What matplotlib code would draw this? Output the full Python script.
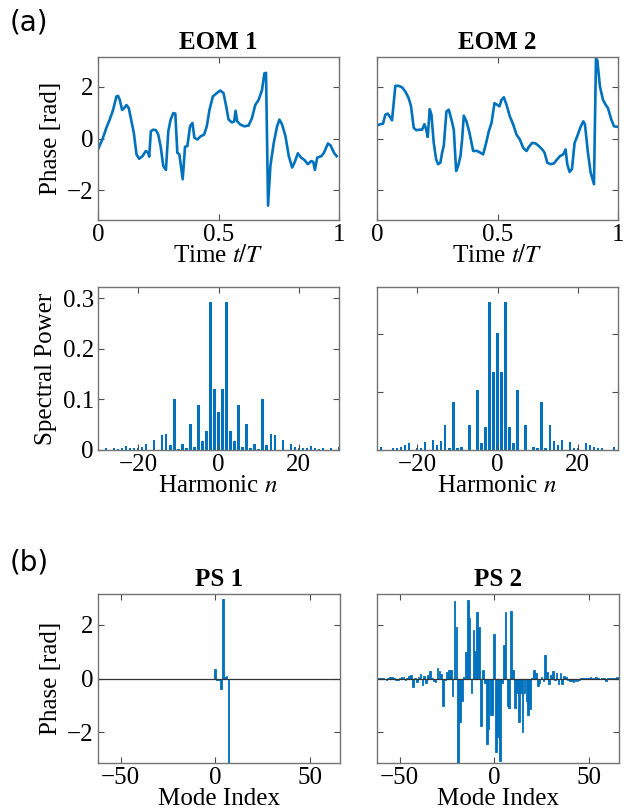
import numpy as np
import matplotlib
matplotlib.use("Agg")
import matplotlib.pyplot as plt

plt.rcParams["font.family"] = ["Liberation Serif", "DejaVu Serif"]
plt.rcParams["mathtext.fontset"] = "stix"

BLUE = "#0072BD"
W, H = 631, 810

# ---- EOM phase traces ----
t1 = [0, .0208, .0347, .0486, .0625, .0764, .0833, .0903, .1, .1083, .1181, .1278, .1389, .1486,
      .1597, .1708, .1847, .1986, .2083, .2125, .2194, .2292, .2403, .25, .2597, .2708, .2819,
      .2917, .3014, .3125, .3208, .3292, .3375, .3514, .3611, .3708, .3819, .3917, .4, .4125,
      .4264, .4403, .4514, .4625, .4764, .4931, .5069, .5208, .5319, .5417, .5556, .5653, .5708,
      .5778, .5903, .6069, .625, .6389, .6528, .6667, .6806, .6903, .6972, .7056, .7153, .7292,
      .7431, .7528, .7639, .7778, .7917, .8056, .8167, .8292, .8431, .8569, .8708, .8847, .8931,
      .9, .9097, .9264, .9375, .9542, .9653, .9792, .9903]
phi1 = [-0.42, 0.03, 0.41, 0.73, 1.1, 1.62, 1.64, 1.49, 1.1, 1.17, 1.29, 1.17, 0.66, 0.22,
        -0.61, -0.78, -0.68, -0.48, -0.55, -0.7, 0.28, 0.34, 0.32, 0.15, -0.29, -1.06, -1.21,
        0.28, 0.73, 0.98, 0.96, -0.55, -0.61, -1.57, -0.32, -0.29, 0.47, 0.6, 0.03, -0.04,
        0.09, 0.15, 0.47, 1.1, 1.62, 1.75, 1.85, 1.75, 1.24, 0.73, 0.62, 0.66, 1.07,
        0.66, 0.54, 0.47, 0.5, 0.79, 1.3, 1.49, 1.87, 2.51, 2.53, -2.59, -1.06, -0.17,
        0.47, 0.73, 0.54, 0.09, -0.68, -1.12, -0.9, -0.57, -0.74, -0.83, -0.99, -0.87, -0.9,
        -1.21, -0.74, -0.68, -0.55, -0.19, -0.27, -0.55, -0.68]

t2 = [0, .0139, .0249, .0346, .0443, .0526, .0623, .0762, .09, .1039, .1177, .1316, .1413, .1524,
      .1634, .1773, .187, .1967, .2036, .2105, .2188, .2258, .2355, .2452, .2535, .2632, .2701,
      .277, .2881, .2978, .3089, .3186, .3283, .3366, .3463, .3532, .3601, .3712, .3837, .3989,
      .4155, .4294, .4404, .4529, .464, .4751, .4875, .4986, .5083, .5166, .5263, .5374, .5512,
      .5651, .5789, .5928, .6066, .6205, .6302, .644, .6579, .6717, .6856, .6953, .7064, .7202,
      .7341, .7452, .759, .7729, .7825, .7895, .7992, .8089, .8199, .831, .8449, .856, .8629,
      .8753, .8864, .9003, .9086, .9141, .9252, .9377, .9488, .9584, .9723, .9834, .9972]
phi2 = [0.5, 0.55, 0.57, 0.92, 0.96, 0.85, 0.7, 2.03, 2.03, 1.97, 1.81, 1.55, 1.24, 0.41,
        0.32, 0.34, 0.34, 0.55, 0.37, 0.06, 1.13, 0.92, -0.17, -0.8, -0.99, -0.93, -0.55,
        -0.29, 1.04, 1.11, 0.73, 0.34, -1.25, -1.06, -0.68, -0.04, 0.88, 0.66, 0.22, -0.48,
        -0.48, -0.55, -0.61, -0.17, 0.28, 0.6, 1.36, 1.3, 1.24, 1.49, 1.59, 1.3, 0.85,
        0.54, 0.15, -0.04, -0.36, -0.48, -0.32, -0.17, -0.19, -0.29, -0.42, -0.55, -0.93, -0.99,
        -0.96, -0.83, -0.68, -0.61, -0.42, -0.99, -1.29, -1.18, -0.17, 0.09, 0.45, 0.66, 0.54,
        -0.55, -1.31, -1.76, 3.08, 3.02, 2.0, 1.49, 1.3, 1.17, 0.73, 0.47, 0.45]

# ---- spectral power, harmonics -30..30 ----
harm = list(range(-30, 31))
spec1 = [0.005, 0.0, 0.003, 0.0, 0.003, 0.002, 0.003, 0.007, 0.003, 0.003, 0.004, 0.005,
         0.012, 0.0, 0.02, 0.0, 0.029, 0.031, 0.009, 0.1, 0.002, 0.011, 0.004, 0.051, 0.006,
         0.089, 0.017, 0.038, 0.293, 0.121, 0.075,
         0.121, 0.293, 0.038, 0.017, 0.089, 0.006, 0.051, 0.004, 0.011, 0.002, 0.1, 0.009,
         0.031, 0.029, 0.0, 0.02, 0.0, 0.012, 0.005, 0.004, 0.003, 0.003, 0.007, 0.003,
         0.002, 0.003, 0.0, 0.003, 0.0, 0.005]
spec2 = [0.0, 0.005, 0.0, 0.0, 0.003, 0.003, 0.005, 0.009, 0.012, 0.0, 0.003, 0.003,
         0.013, 0.0, 0.017, 0.009, 0.016, 0.043, 0.004, 0.082, 0.004, 0.005, 0.0, 0.043, 0.0,
         0.104, 0.012, 0.039, 0.255, 0.135, 0.202,
         0.135, 0.255, 0.039, 0.012, 0.104, 0.0, 0.043, 0.0, 0.005, 0.004, 0.082, 0.004,
         0.043, 0.016, 0.009, 0.017, 0.0, 0.013, 0.003, 0.003, 0.0, 0.012, 0.009, 0.005,
         0.003, 0.003, 0.0, 0.0, 0.005, 0.0]

# ---- phase-shaper masks ----
modes1 = [0, 1, 2, 3, 4, 5, 6, 7]
ps1 = [0.34, -0.04, -0.06, -0.39, 2.97, 0.05, 0.1, -3.14]

modes2 = list(range(-61, 67))
ps2 = [0.02, 0.01, 0.02, -0.02, -0.05, 0.02, 0.04, 0.05, 0.01, -0.04, -0.05, 0.03, 0.06,
       0.04, -0.05, 0.02, 0.1, 0.13, -0.33, 0.03, -0.12, 0.04, 0.18, -0.25, 0.08, -0.15,
       0.12, 0.28, 0.03, -0.1, -0.12, 0.38, 0.28, 0.18, -1.03, -0.05, 0.23, 0.3, 0.32,
       -0.64, 2.87, 1.91, -3.14, -1.6, -0.85, 0.07, 0.99, 2.92, 2.25, -0.54, 1.79, 1.02,
       2.46, 1.9, -1.76, 0.32, -0.15, -2.44, -1.89, -1.34, -1.35,
       1.67, -2.75, -2.19, -3.05, -0.17, 1.24, 2.46, -1.03, -1.1, 2.52, 0.32, -1.09, -0.54,
       -1.62, -0.54, -1.99, -0.54, -0.85, -1.34, -1.15, 0.02, 0.32, 0.2, -0.27, -0.15, 0.05,
       -0.1, 0.87, 0.23, -0.2, 0.13, 0.29, -0.07, 0.22, -0.2, 0.2, -0.2, 0.1, 0.07, -0.05,
       -0.08, -0.1, -0.12, -0.08, -0.1, -0.05, 0.02, 0.03, 0.01, 0.03, 0.02, 0.04, 0.01,
       0.03, 0.05, 0.02, -0.02, 0.01, 0.02, -0.1, 0.01, 0.02, 0.03, 0.02, 0.01, 0.04, 0.03]

FS = 18


def rect(l, r, t, b):
    return [l / W, 1 - b / H, (r - l) / W, (b - t) / H]


def style(ax, ylab=True):
    ax.tick_params(direction="in", top=True, right=True, length=4, width=0.8,
                   color="0.3", labelsize=FS, pad=3)
    for s in ax.spines.values():
        s.set_color("0.45")
        s.set_linewidth(1.0)
    if not ylab:
        ax.set_yticklabels([])


fig = plt.figure(figsize=(W / 100, H / 100), dpi=100)

# EOM phase
for i, (tt, pp) in enumerate([(t1, phi1), (t2, phi2)]):
    l = 98 if i == 0 else 377
    ax = fig.add_axes(rect(l, l + 241, 57, 220))
    ax.plot(tt, pp, color=BLUE, lw=1.9)
    ax.set_xlim(0, 1)
    ax.set_ylim(-np.pi, np.pi)
    ax.set_xticks([0, 0.5, 1])
    ax.set_xticklabels(["0", "0.5", "1"])
    ax.set_yticks([-2, 0, 2])
    style(ax, i == 0)
    ax.set_title(f"EOM {i + 1}", fontsize=FS, fontweight="bold", pad=6)
    ax.set_xlabel("Time $t/T$", fontsize=FS, labelpad=-1)
    if i == 0:
        ax.set_ylabel("Phase [rad]", fontsize=FS, labelpad=4)

# spectra
for i, sp in enumerate([spec1, spec2]):
    l = 98 if i == 0 else 377
    ax = fig.add_axes(rect(l, l + 241, 287, 450))
    ax.bar(harm, sp, width=0.6, color=BLUE, linewidth=0)
    ax.set_xlim(-30, 30)
    ax.set_ylim(0, 1.1 * max(sp))
    ax.set_xticks([-20, 0, 20])
    ax.set_yticks([0, 0.1, 0.2, 0.3] if i == 0 else [0, 0.1, 0.2])
    if i == 0:
        ax.set_yticklabels(["0", "0.1", "0.2", "0.3"])
    style(ax, i == 0)
    ax.set_xlabel("Harmonic $n$", fontsize=FS, labelpad=-1)
    if i == 0:
        ax.set_ylabel("Spectral Power", fontsize=FS, labelpad=4)

# phase shaper masks
for i, (mm, pp) in enumerate([(modes1, ps1), (modes2, ps2)]):
    l = 98 if i == 0 else 377
    ax = fig.add_axes(rect(l, l + 242, 594, 763))
    ax.bar(mm, pp, width=0.9, color=BLUE, edgecolor=BLUE, linewidth=0.6)
    ax.axhline(0, color="0.2", lw=0.9)
    ax.set_xlim(-62, 66)
    ax.set_ylim(-np.pi, np.pi)
    ax.set_xticks([-50, 0, 50])
    ax.set_yticks([-2, 0, 2])
    style(ax, i == 0)
    ax.set_title(f"PS {i + 1}", fontsize=FS, fontweight="bold", pad=6)
    ax.set_xlabel("Mode Index", fontsize=FS, labelpad=-1)
    if i == 0:
        ax.set_ylabel("Phase [rad]", fontsize=FS, labelpad=4)

fig.text(10 / W, 1 - 22 / H, "(a)", fontsize=20, family="DejaVu Sans", va="center")
fig.text(10 / W, 1 - 562 / H, "(b)", fontsize=20, family="DejaVu Sans", va="center")

fig.savefig("out.png", dpi=100)
